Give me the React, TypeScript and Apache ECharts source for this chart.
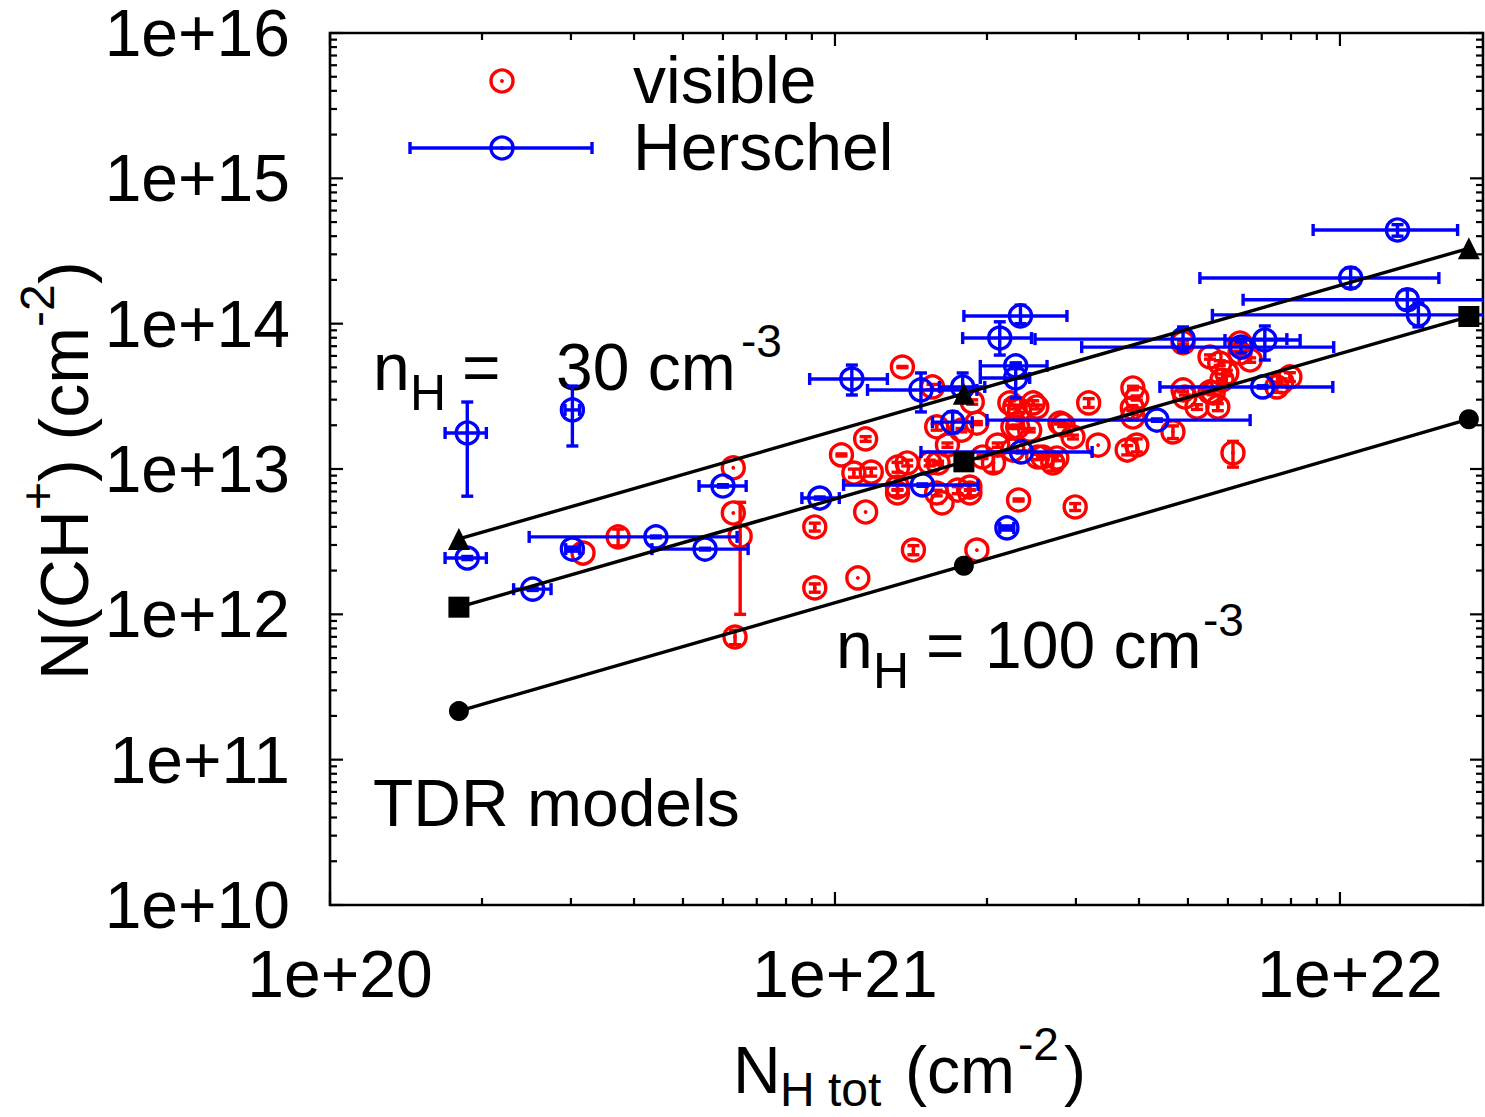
import React, { useEffect, useRef } from "react";
import * as echarts from "echarts";

const FONT = '"Liberation Sans", Arial, Helvetica, sans-serif';
const RED = "#ff0000";
const BLUE = "#0000ff";

// axis ranges (cm^-2)
const xRange = [1e20, 1.92e22];
const yRange = [1e10, 1e16];
const xMajorExp = [20, 21, 22];
const yMajorExp = [10, 11, 12, 13, 14, 15, 16];
const xTickLabels = ["1e+20", "1e+21", "1e+22"];
const yTickLabels = ["1e+10", "1e+11", "1e+12", "1e+13", "1e+14", "1e+15", "1e+16"];
const minorMultipliers = [2, 3, 4, 5, 6, 7, 8, 9];

// visible: [N_H tot, N(CH+), error on N(CH+)]
const visibleData: number[][] = [
  [3.17e20, 2.64e12, 0],
  [3.72e20, 3.41e12, 0.45e12],
  [6.29e20, 1.02e13, 0],
  [6.29e20, 4.98e12, 0],
  [6.49e20, 3.45e12, 2.45e12],
  [6.34e20, 6.98e11, 0.8e11],
  [9.12e20, 3.99e12, 0.25e12],
  [9.12e20, 1.52e12, 0.1e12],
  [1.03e21, 1.25e13, 0.2e12],
  [1.09e21, 9.38e12, 0.6e12],
  [1.18e21, 9.53e12, 0.6e12],
  [1.15e21, 1.61e13, 0.6e12],
  [1.15e21, 5.06e12, 0],
  [1.11e21, 1.78e12, 0],
  [1.36e21, 5.03e13, 0.5e12],
  [1.33e21, 1.03e13, 0.8e12],
  [1.39e21, 1.1e13, 0.5e12],
  [1.33e21, 7.51e12, 0.3e12],
  [1.33e21, 6.84e12, 0.3e12],
  [1.43e21, 2.77e12, 0.2e12],
  [1.56e21, 3.67e13, 1.5e12],
  [1.59e21, 1.95e13, 1.0e12],
  [1.67e21, 1.46e13, 0.5e12],
  [1.54e21, 1.1e13, 0.5e12],
  [1.6e21, 1.1e13, 0.3e12],
  [1.59e21, 6.84e12, 0.3e12],
  [1.63e21, 5.84e12, 0],
  [1.75e21, 7.16e12, 0.4e12],
  [1.85e21, 6.84e12, 0.3e12],
  [1.87e21, 2.89e13, 1.0e12],
  [1.91e21, 2.07e13, 0.5e12],
  [1.78e21, 1.85e13, 0.5e12],
  [1.96e21, 1.21e13, 0.3e12],
  [2.06e21, 1.1e13, 1.5e12],
  [2.1e21, 1.46e13, 0.5e12],
  [1.91e21, 2.77e12, 0],
  [2.31e21, 6.12e12, 0.1e12],
  [2.22e21, 2.85e13, 1.0e12],
  [2.32e21, 2.55e13, 1.0e12],
  [2.47e21, 2.85e13, 1.0e12],
  [2.25e21, 1.95e13, 0.5e12],
  [2.43e21, 1.85e13, 0.5e12],
  [2.25e21, 1.35e13, 0.5e12],
  [2.52e21, 1.21e13, 0.5e12],
  [2.7e21, 1.1e13, 1.3e12],
  [2.58e21, 1.21e13, 0.3e12],
  [2.83e21, 2.01e13, 0.5e12],
  [2.96e21, 1.66e13, 0.5e12],
  [2.79e21, 2.07e13, 0.3e12],
  [2.99e21, 5.48e12, 0.3e12],
  [3.18e21, 2.85e13, 2.0e12],
  [3.32e21, 1.46e13, 0],
  [3.89e21, 3.61e13, 1.0e12],
  [3.96e21, 3.08e13, 1.0e12],
  [3.88e21, 2.63e13, 1.0e12],
  [3.89e21, 2.28e13, 1.0e12],
  [3.79e21, 1.35e13, 1.0e12],
  [3.96e21, 1.46e13, 1.5e12],
  [4.67e21, 1.8e13, 1.8e12],
  [4.89e21, 3.5e13, 1.0e12],
  [4.93e21, 3.13e13, 1.0e12],
  [5.21e21, 2.67e13, 1.0e12],
  [5.61e21, 3.34e13, 1.0e12],
  [5.73e21, 2.67e13, 1.5e12],
  [6.14e21, 1.29e13, 2.6e12],
  [5.53e21, 5.9e13, 2.0e12],
  [5.78e21, 5.36e13, 2.0e12],
  [5.97e21, 4.58e13, 2.0e12],
  [6.34e21, 6.28e13, 2.0e12],
  [6.64e21, 5.62e13, 2.0e12],
  [7.5e21, 3.67e13, 3.0e12],
  [7.96e21, 4.3e13, 3.0e12],
  [6.34e21, 7.36e13, 2.0e12],
  [4.89e21, 7.4e13, 2.0e12],
  [5.84e21, 4.09e13, 1.0e12],
  [2.75e21, 1.19e13, 0.5e12],
  [1.85e21, 7.51e12, 0.3e12],
  [2.27e21, 2.67e13, 0.8e12],
  [2.51e21, 2.67e13, 0.8e12],
  [2.3e21, 1.95e13, 0.5e12],
  [7.67e21, 3.97e13, 2.0e12],
  [5.53e21, 3.39e13, 1.0e12],
];

// Herschel: [N_H, N_H low, N_H high, N(CH+), N(CH+) low, N(CH+) high]
const herschelData: number[][] = [
  [1.87e20, 1.69e20, 2.04e20, 1.77e13, 0.65e13, 2.89e13],
  [3.02e20, 2.92e20, 3.12e20, 2.55e13, 1.44e13, 3.72e13],
  [1.87e20, 1.69e20, 2.04e20, 2.44e12, 2.38e12, 2.5e12],
  [2.52e20, 2.31e20, 2.74e20, 1.49e12, 1.46e12, 1.52e12],
  [3.02e20, 2.93e20, 3.12e20, 2.81e12, 2.72e12, 2.9e12],
  [4.42e20, 2.48e20, 6.4e20, 3.41e12, 3.36e12, 3.46e12],
  [5.53e20, 4.34e20, 6.73e20, 2.81e12, 2.77e12, 2.85e12],
  [6.0e20, 5.38e20, 6.67e20, 7.64e12, 7.5e12, 7.8e12],
  [9.33e20, 8.6e20, 1.02e21, 6.31e12, 6.2e12, 6.42e12],
  [1.08e21, 8.91e20, 1.27e21, 4.16e13, 3.23e13, 5.19e13],
  [1.48e21, 1.16e21, 1.91e21, 3.5e13, 2.47e13, 4.58e13],
  [1.79e21, 1.61e21, 1.98e21, 3.67e13, 2.99e13, 4.58e13],
  [1.71e21, 1.56e21, 1.87e21, 2.1e13, 1.77e13, 2.47e13],
  [2.28e21, 1.94e21, 2.63e21, 5.12e13, 4.9e13, 5.35e13],
  [2.28e21, 1.94e21, 2.43e21, 4.23e13, 3.08e13, 5.36e13],
  [2.33e21, 1.8e21, 2.88e21, 1.13e14, 1.0e14, 1.34e14],
  [2.12e21, 1.79e21, 2.45e21, 7.96e13, 6.08e13, 1.03e14],
  [4.89e21, 2.49e21, 7.85e21, 7.83e13, 6.38e13, 9.49e13],
  [6.37e21, 3.08e21, 9.72e21, 6.9e13, 6.3e13, 7.5e13],
  [7.1e21, 5.92e21, 8.34e21, 7.72e13, 5.62e13, 9.64e13],
  [1.3e22, 8.85e21, 1.71e22, 4.41e14, 4.0e14, 4.8e14],
  [1.05e22, 5.28e21, 1.57e22, 2.06e14, 1.76e14, 2.42e14],
  [1.36e22, 6.43e21, 2.27e22, 1.46e14, 1.25e14, 1.71e14],
  [1.43e22, 5.59e21, 2.38e22, 1.15e14, 0.95e14, 1.39e14],
  [7.03e21, 4.4e21, 9.68e21, 3.67e13, 3.6e13, 3.74e13],
  [4.34e21, 2.0e21, 6.64e21, 2.17e13, 2.13e13, 2.21e13],
  [2.34e21, 1.48e21, 3.23e21, 1.31e13, 1.29e13, 1.33e13],
  [1.49e21, 1.04e21, 1.92e21, 7.77e12, 7.6e12, 7.9e12],
  [2.19e21, 2.12e21, 2.26e21, 3.93e12, 3.8e12, 4.06e12],
];

// TDR models
const modelNH = [1.8e20, 1.8e21, 1.8e22];
const modelTriangle = [3.3e12, 3.3e13, 3.3e14];
const modelSquare = [1.12e12, 1.12e13, 1.12e14];
const modelCircle = [2.16e11, 2.16e12, 2.2e13];

const lg = Math.log10;
const X_MIN = lg(xRange[0]);
const X_MAX = lg(xRange[1]);
const Y_MIN = lg(yRange[0]);
const Y_MAX = lg(yRange[1]);

const R = 11; // point circle radius
const CAP = 6;
const LW = 3.4;

function txt(text: string, x: number, baseline: number, size: number, lineHeight?: number) {
  return {
    type: "text",
    x,
    y: baseline - 0.3465 * size,
    silent: true,
    style: {
      text,
      fontSize: size,
      fontFamily: FONT,
      fill: "#000",
      lineHeight: lineHeight ?? size,
      align: "left",
      textAlign: "left",
      verticalAlign: "middle",
      textVerticalAlign: "middle",
    },
  };
}

function seg(x1: number, y1: number, x2: number, y2: number, color: string, w = LW) {
  return { type: "line", shape: { x1, y1, x2, y2 }, style: { stroke: color, lineWidth: w } };
}

function pointMark(cx: number, cy: number, color: string) {
  return [
    { type: "circle", shape: { cx, cy, r: R }, style: { stroke: color, lineWidth: LW, fill: "none" } },
    { type: "circle", shape: { cx, cy, r: 1.9 }, style: { fill: color, stroke: "none" } },
  ];
}

function buildTicks() {
  const ticks: number[][] = [];
  for (let d = Math.floor(X_MIN); d <= Math.ceil(X_MAX); d++) {
    if (d >= X_MIN && d <= X_MAX) ticks.push([d, 0, 13]);
    for (const k of minorMultipliers) {
      const v = d + lg(k);
      if (v > X_MIN && v < X_MAX) ticks.push([v, 0, 7]);
    }
  }
  for (let d = Y_MIN; d <= Y_MAX; d++) {
    ticks.push([d, 1, 13]);
    if (d < Y_MAX) for (const k of minorMultipliers) ticks.push([d + lg(k), 1, 7]);
  }
  return ticks;
}

function buildOption() {
  const visible = visibleData.map(([x, y, e]) => [lg(x), lg(y), lg(y - e), lg(y + e)]);
  const herschel = herschelData.map((r) => r.map(lg));

  const modelSeries = (ys: number[], symbol: string, size: number) => ({
    type: "line",
    data: modelNH.map((x, i) => [lg(x), lg(ys[i])]),
    symbol,
    symbolSize: size,
    showSymbol: true,
    silent: true,
    z: 6,
    itemStyle: { color: "#000" },
    lineStyle: { color: "#000", width: 3.4 },
  });

  const YT = 68;
  const YS = 48;
  const yTitle = {
    type: "group",
    x: 88,
    y: 680,
    rotation: Math.PI / 2,
    children: [
      txt("N(CH", 0, 0, YT),
      txt("+", 170, -34, YS),
      txt(") (cm", 198, 0, YT),
      txt("-2", 353, -34, YS),
      txt(")", 396, 0, YT),
    ],
  };

  return {
    animation: false,
    backgroundColor: "#fff",
    grid: {
      left: 330,
      top: 33,
      right: 2,
      bottom: 212,
      containLabel: false,
      outerBoundsMode: "none",
      show: true,
      borderColor: "#000",
      borderWidth: 2.6,
      backgroundColor: "transparent",
    },
    xAxis: {
      type: "value",
      min: X_MIN,
      max: X_MAX,
      interval: 1,
      axisLine: { show: false },
      axisTick: { show: false },
      splitLine: { show: false },
      axisLabel: {
        fontSize: 66,
        fontFamily: FONT,
        color: "#000",
        margin: 36,
        padding: [0, 0, 0, 20],
        showMaxLabel: false,
        formatter: (v: number) => {
          const i = xMajorExp.indexOf(Math.round(v));
          return Math.abs(v - Math.round(v)) < 1e-6 && i >= 0 ? xTickLabels[i] : "";
        },
      },
    },
    yAxis: {
      type: "value",
      min: Y_MIN,
      max: Y_MAX,
      interval: 1,
      axisLine: { show: false },
      axisTick: { show: false },
      splitLine: { show: false },
      axisLabel: {
        fontSize: 66,
        lineHeight: 54,
        fontFamily: FONT,
        color: "#000",
        margin: 40,
        formatter: (v: number) => {
          const i = yMajorExp.indexOf(Math.round(v));
          return i >= 0 ? yTickLabels[i] : "";
        },
      },
    },
    series: [
      {
        type: "custom",
        coordinateSystem: "cartesian2d",
        data: buildTicks(),
        silent: true,
        clip: false,
        z: 10,
        renderItem: (params: any, api: any) => {
          const cs = params.coordSys;
          const v = api.value(0);
          const kind = api.value(1);
          const len = api.value(2);
          if (kind === 0) {
            const px = api.coord([v, Y_MIN])[0];
            return {
              type: "group",
              children: [
                seg(px, cs.y + cs.height, px, cs.y + cs.height - len, "#000", 2.2),
                seg(px, cs.y, px, cs.y + len, "#000", 2.2),
              ],
            };
          }
          const py = api.coord([X_MIN, v])[1];
          return {
            type: "group",
            children: [
              seg(cs.x, py, cs.x + len, py, "#000", 2.2),
              seg(cs.x + cs.width, py, cs.x + cs.width - len, py, "#000", 2.2),
            ],
          };
        },
      },
      {
        type: "custom",
        name: "visible",
        coordinateSystem: "cartesian2d",
        data: visible,
        silent: true,
        clip: true,
        z: 3,
        renderItem: (params: any, api: any) => {
          const x = api.value(0);
          const y = api.value(1);
          const lo = api.value(2);
          const hi = api.value(3);
          const p = api.coord([x, y]);
          const children: any[] = [];
          if (hi > lo) {
            const a = api.coord([x, lo]);
            const b = api.coord([x, hi]);
            children.push(seg(p[0], a[1], p[0], b[1], RED));
            children.push(seg(p[0] - CAP, a[1], p[0] + CAP, a[1], RED));
            children.push(seg(p[0] - CAP, b[1], p[0] + CAP, b[1], RED));
          }
          children.push(...pointMark(p[0], p[1], RED));
          return { type: "group", children };
        },
      },
      {
        type: "custom",
        name: "Herschel",
        coordinateSystem: "cartesian2d",
        data: herschel,
        silent: true,
        clip: true,
        z: 4,
        renderItem: (params: any, api: any) => {
          const x = api.value(0);
          const xl = api.value(1);
          const xh = api.value(2);
          const y = api.value(3);
          const yl = api.value(4);
          const yh = api.value(5);
          const p = api.coord([x, y]);
          const l = api.coord([xl, y])[0];
          const h = api.coord([xh, y])[0];
          const b = api.coord([x, yl])[1];
          const t = api.coord([x, yh])[1];
          const children: any[] = [
            seg(l, p[1], h, p[1], BLUE),
            seg(l, p[1] - CAP, l, p[1] + CAP, BLUE),
            seg(h, p[1] - CAP, h, p[1] + CAP, BLUE),
            seg(p[0], b, p[0], t, BLUE),
            seg(p[0] - CAP, b, p[0] + CAP, b, BLUE),
            seg(p[0] - CAP, t, p[0] + CAP, t, BLUE),
            ...pointMark(p[0], p[1], BLUE),
          ];
          return { type: "group", children };
        },
      },
      modelSeries(modelTriangle, "triangle", 22),
      modelSeries(modelSquare, "rect", 21),
      modelSeries(modelCircle, "circle", 20),
    ],
    graphic: [
      // legend
      ...pointMark(502, 81, RED).map((e) => ({ ...e, silent: true })),
      seg(410, 148, 592, 148, BLUE),
      seg(410, 142, 410, 154, BLUE),
      seg(592, 142, 592, 154, BLUE),
      ...pointMark(502, 148, BLUE).map((e) => ({ ...e, silent: true })),
      txt("visible", 633, 103, 66),
      txt("Herschel", 633, 170, 66),
      // annotations
      txt("n", 373, 390, 66),
      txt("H", 410, 410, 50),
      txt("=", 462, 390, 66),
      txt("30 cm", 556, 390, 66),
      txt("-3", 741, 357, 46),
      txt("n", 836, 668, 66),
      txt("H", 873, 688, 50),
      txt("=", 926, 668, 66),
      txt("100 cm", 985, 668, 66),
      txt("-3", 1203, 636, 46),
      txt("TDR models", 373, 826, 66),
      // x-axis title
      txt("N", 733, 1093, 66),
      txt("H tot", 780, 1106, 48, 40),
      txt("(cm", 905, 1093, 66),
      txt("-2", 1018, 1060, 46),
      txt(")", 1064, 1093, 66),
      yTitle,
    ],
  };
}

export default function App() {
  const ref = useRef<HTMLDivElement>(null);
  useEffect(() => {
    if (!ref.current) return;
    const chart = echarts.init(ref.current, null, { renderer: "svg" });
    chart.setOption(buildOption() as any);
    return () => chart.dispose();
  }, []);
  return (
    <div
      ref={ref}
      style={{ position: "absolute", left: 0, top: 0, width: 1485, height: 1117, background: "#fff" }}
    />
  );
}
